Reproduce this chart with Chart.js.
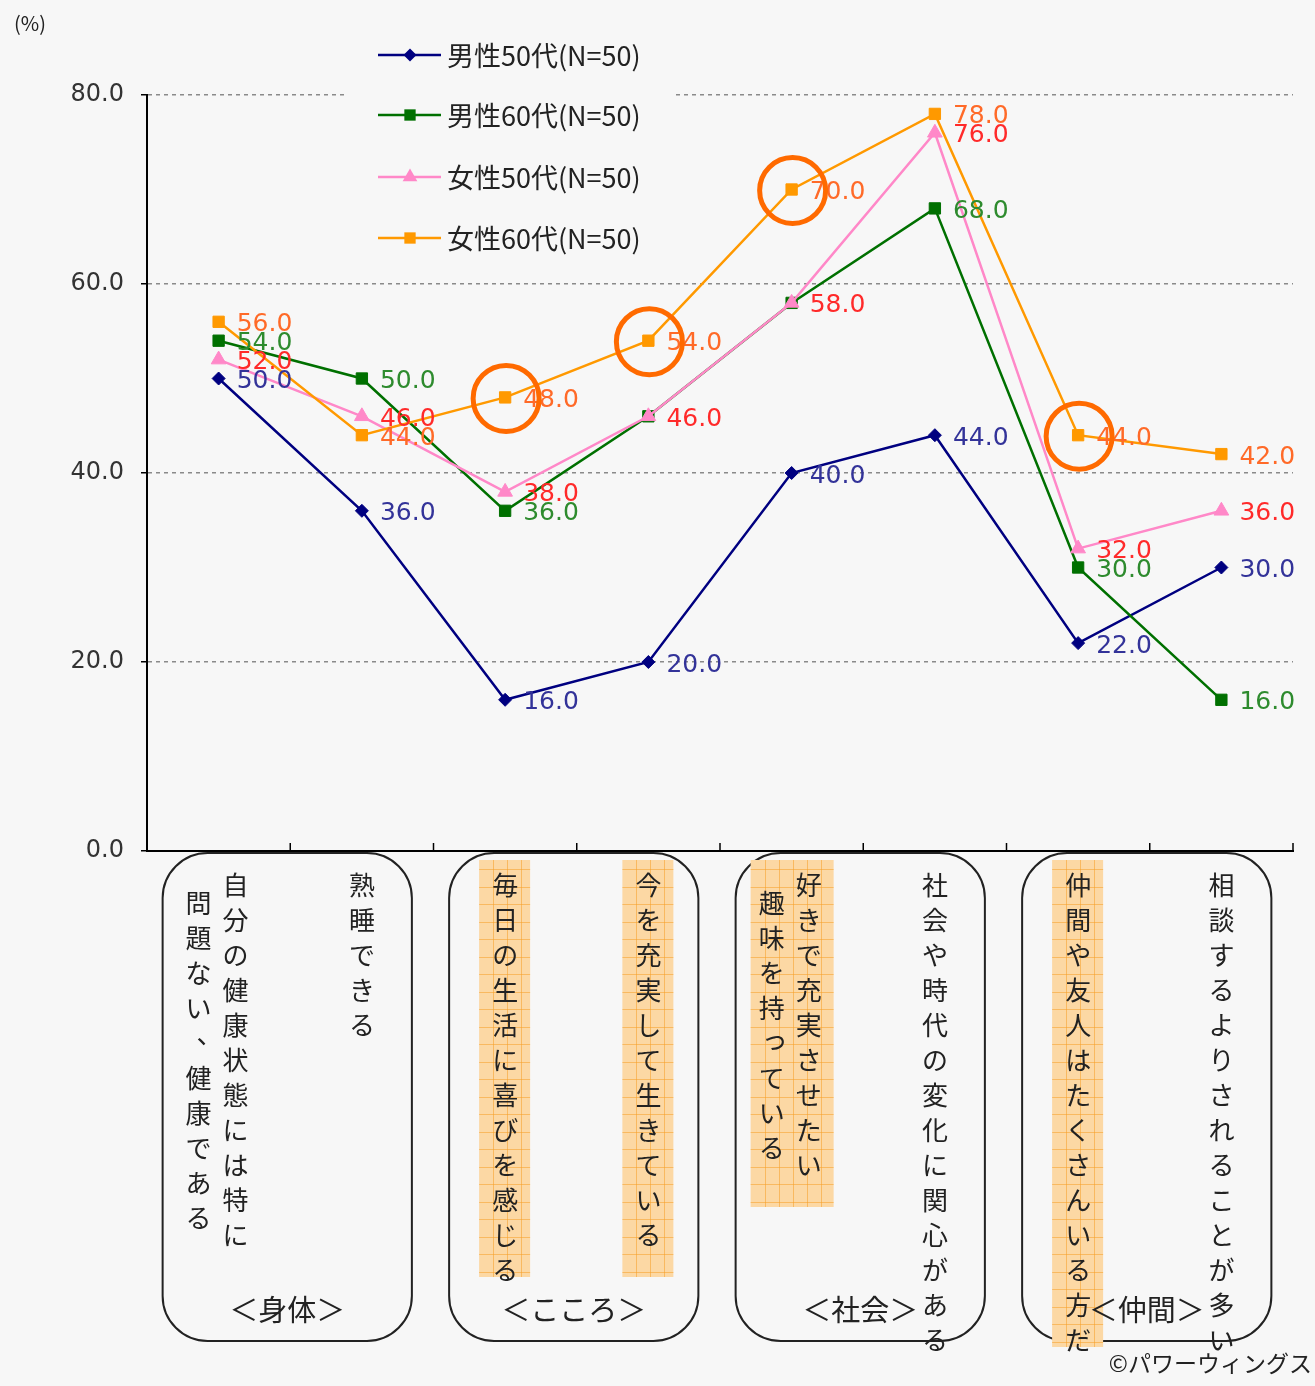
<!DOCTYPE html>
<html lang="ja">
<head>
<meta charset="utf-8">
<script src="https://cdn.jsdelivr.net/npm/chart.js@4.4.1/dist/chart.umd.min.js"></script>
<style>
    html, body { margin: 0; padding: 0; background: #f7f7f7; }
    #chart { display: block; background: #f7f7f7; }
</style>
</head>
<body>
<canvas id="chart" width="1315" height="1386"></canvas>
<script>
// vertical label columns for each item (right column first)
const categoryLines = [
    ["自分の健康状態には特に", "問題ない、健康である"],
    ["熟睡できる"],
    ["毎日の生活に喜びを感じる"],
    ["今を充実して生きている"],
    ["好きで充実させたい", "趣味を持っている"],
    ["社会や時代の変化に関心がある"],
    ["仲間や友人はたくさんいる方だ"],
    ["相談するよりされることが多い"]
];
const categories = categoryLines.map(cols => cols.join(""));
const groupNames = ["＜身体＞", "＜こころ＞", "＜社会＞", "＜仲間＞"];
const highlighted = [2, 3, 4, 6];

const seriesNames = ["男性50代(N=50)", "男性60代(N=50)", "女性50代(N=50)", "女性60代(N=50)"];
const male50 = [50.0, 36.0, 16.0, 20.0, 40.0, 44.0, 22.0, 30.0];
const male60 = [54.0, 50.0, 36.0, 46.0, 58.0, 68.0, 30.0, 16.0];
const female50 = [52.0, 46.0, 38.0, 46.0, 58.0, 76.0, 32.0, 36.0];
const female60 = [56.0, 44.0, 48.0, 54.0, 70.0, 78.0, 44.0, 42.0];
const circledPoints = [2, 3, 4, 6]; // on 女性60代

const lineColors = ['#000080', '#007000', '#ff88c8', '#ff9900'];
const labelColors = ['#333399', '#2e8b2e', '#ff2a2a', '#ff6a28'];
const pointStyles = ['rectRot', 'rect', 'triangle', 'rect'];
const pointSizes = [6.5, 8, 8.5, 8];

const FONT_JP = "'Noto Sans CJK JP', 'Noto Sans', sans-serif";
const FONT_NUM = "'DejaVu Sans', sans-serif";

function roundBox(ctx, x, y, w, h, r) {
    ctx.beginPath();
    ctx.moveTo(x + r, y);
    ctx.arcTo(x + w, y, x + w, y + h, r);
    ctx.arcTo(x + w, y + h, x, y + h, r);
    ctx.arcTo(x, y + h, x, y, r);
    ctx.arcTo(x, y, x + w, y, r);
    ctx.closePath();
}

function drawVertical(ctx, text, x, y0) {
    [...text].forEach((ch, k) => {
        let dx = 0, dy = 0;
        if ('、。'.includes(ch)) { dx = 11; dy = -9; }
        if ('っゃゅょ'.includes(ch)) { dx = 3; dy = -4; }
        ctx.fillText(ch, x + dx, y0 + k * 35 + dy);
    });
}

const decor = {
    id: 'decor',
    afterDatasetsDraw(chart) {
        const ctx = chart.ctx;
        ctx.save();
        // value labels, skip ones hidden under a later series with the same value
        ctx.font = '25px ' + FONT_NUM;
        ctx.textAlign = 'left';
        ctx.textBaseline = 'middle';
        chart.data.datasets.forEach((ds, d) => {
            const meta = chart.getDatasetMeta(d);
            ds.data.forEach((v, i) => {
                const covered = chart.data.datasets.some((o, k) => k > d && o.data[i] === v);
                if (covered) return;
                const pt = meta.data[i];
                ctx.fillStyle = labelColors[d];
                ctx.fillText(v.toFixed(1), pt.x + 18, pt.y + 3);
            });
        });
        // orange rings
        const meta = chart.getDatasetMeta(3);
        ctx.strokeStyle = '#ff6a00';
        ctx.lineWidth = 5;
        circledPoints.forEach(i => {
            const pt = meta.data[i];
            ctx.beginPath();
            ctx.arc(pt.x + 1, pt.y + 1, 33, 0, Math.PI * 2);
            ctx.stroke();
        });
        ctx.restore();
    },
    afterDraw(chart) {
        const ctx = chart.ctx;
        const xs = chart.scales.x;
        const area = chart.chartArea;
        const px = i => xs.getPixelForValue(i);
        const boxLeft = g => px(g * 2) - 56;
        const boxRight = g => px(g * 2 + 1) + 50;
        ctx.save();

        // unit
        ctx.fillStyle = '#222';
        ctx.font = '20px ' + FONT_JP;
        ctx.textAlign = 'left';
        ctx.textBaseline = 'middle';
        ctx.fillText('(%)', 14, 23);

        // category ticks pointing up
        ctx.strokeStyle = '#000';
        ctx.lineWidth = 1.5;
        for (let i = 1; i <= categories.length; i++) {
            const x = i < categories.length ? (px(i - 1) + px(i)) / 2 : area.right;
            ctx.beginPath();
            ctx.moveTo(x, area.bottom - 8);
            ctx.lineTo(x, area.bottom);
            ctx.stroke();
        }

        // group boxes
        ctx.strokeStyle = '#222';
        ctx.lineWidth = 2;
        groupNames.forEach((name, g) => {
            roundBox(ctx, boxLeft(g), 853, boxRight(g) - boxLeft(g), 488, 45);
            ctx.stroke();
        });

        // highlighted items: orange squared paper behind the text
        const colX = (i, c) => categoryLines[i].length === 1 ? px(i) : px(i) + (c === 0 ? 17 : -20);
        highlighted.forEach(i => {
            const xsCols = categoryLines[i].map((_, c) => colX(i, c));
            const n = Math.max(...categoryLines[i].map(t => t.length));
            const x0 = Math.min(...xsCols) - (xsCols.length > 1 ? 21 : 26);
            const x1 = Math.max(...xsCols) + 25;
            const y0 = 860;
            const h = Math.ceil(n / 2) * 70 - 3;
            ctx.fillStyle = '#fcd8a4';
            ctx.fillRect(x0, y0, x1 - x0, h);
            ctx.strokeStyle = 'rgba(245,160,40,0.55)';
            ctx.lineWidth = 1;
            ctx.beginPath();
            for (let x = x0 + 14; x < x1; x += 14) {
                ctx.moveTo(Math.round(x) + 0.5, y0);
                ctx.lineTo(Math.round(x) + 0.5, y0 + h);
            }
            for (let y = y0 + 9; y < y0 + h; y += 17.5) {
                ctx.moveTo(x0, Math.round(y) + 0.5);
                ctx.lineTo(x1, Math.round(y) + 0.5);
            }
            ctx.stroke();
        });

        // vertical item text
        ctx.fillStyle = '#222';
        ctx.font = '26px ' + FONT_JP;
        ctx.textAlign = 'center';
        ctx.textBaseline = 'middle';
        categoryLines.forEach((cols, i) => {
            cols.forEach((text, c) => {
                drawVertical(ctx, text, colX(i, c), 885 + (c === 0 ? 0 : 18));
            });
        });

        // group names
        ctx.font = '29px ' + FONT_JP;
        groupNames.forEach((name, g) => {
            ctx.fillText(name, (boxLeft(g) + boxRight(g)) / 2, 1310);
        });

        // legend
        ctx.fillStyle = '#f7f7f7';
        ctx.fillRect(346, 25, 330, 240);
        ctx.font = '27px ' + FONT_JP;
        ctx.textAlign = 'left';
        const rows = [55, 115, 177, 238];
        chart.data.datasets.forEach((ds, d) => {
            const y = rows[d];
            ctx.strokeStyle = lineColors[d];
            ctx.fillStyle = lineColors[d];
            ctx.lineWidth = 2.5;
            ctx.beginPath();
            ctx.moveTo(378, y);
            ctx.lineTo(441, y);
            ctx.stroke();
            Chart.helpers.drawPoint(ctx, {
                pointStyle: pointStyles[d], radius: pointSizes[d], rotation: 0, borderWidth: 0
            }, 410, y);
            ctx.fillStyle = '#222';
            ctx.fillText(ds.label, 447, y + 1);
        });

        // credit
        ctx.font = '23px ' + FONT_JP;
        ctx.textAlign = 'right';
        ctx.fillText('©パワーウィングス', 1312, 1363);
        ctx.restore();
    }
};

const seriesData = [male50, male60, female50, female60];

new Chart(document.getElementById('chart').getContext('2d'), {
    type: 'line',
    data: {
        labels: categories,
        datasets: seriesData.map((data, d) => ({
            label: seriesNames[d],
            data: data,
            borderColor: lineColors[d],
            backgroundColor: lineColors[d],
            pointBackgroundColor: lineColors[d],
            pointBorderColor: lineColors[d],
            pointBorderWidth: 1,
            pointStyle: pointStyles[d],
            pointRadius: pointSizes[d],
            borderWidth: 2.5,
            tension: 0,
            fill: false,
            order: seriesData.length - d
        }))
    },
    options: {
        responsive: false,
        animation: false,
        events: [],
        layout: { padding: { top: 95, right: 22, left: 0, bottom: 0 } },
        plugins: {
            legend: { display: false },
            tooltip: { enabled: false }
        },
        scales: {
            x: {
                offset: true,
                grid: { drawOnChartArea: false, drawTicks: false },
                border: { color: '#000', width: 2 },
                ticks: { display: false },
                afterFit: s => { s.height = 535; }
            },
            y: {
                min: 0,
                max: 80,
                ticks: {
                    stepSize: 20,
                    callback: v => v.toFixed(1),
                    color: '#333',
                    font: { family: FONT_NUM, size: 24 },
                    padding: 17
                },
                grid: {
                    color: c => (c.tick && c.tick.value === 0) ? 'rgba(0,0,0,0)' : '#8a8a8a',
                    lineWidth: 1.5,
                    tickColor: '#000',
                    tickLength: 6,
                    tickBorderDash: [1, 0]
                },
                border: { color: '#000', width: 2, dash: [4, 4] },
                afterFit: s => { s.width = 147; }
            }
        }
    },
    plugins: [decor]
});
</script>
</body>
</html>
